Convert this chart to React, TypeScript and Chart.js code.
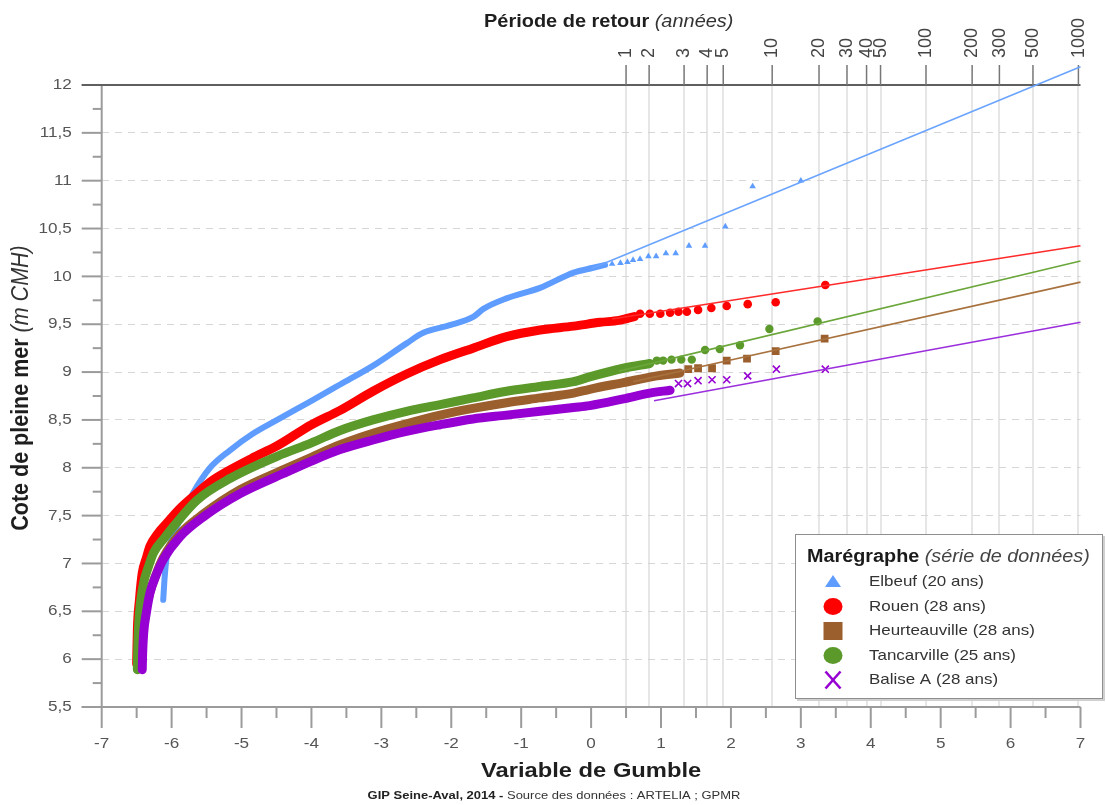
import React, { useEffect, useRef } from 'react';
import { Chart, registerables } from 'chart.js';

Chart.register(...registerables);

const FONT = '"Liberation Sans", Arial, Helvetica, sans-serif';

// Axes: Gumbel reduced variable (x) and high-water level in m CMH (y)
const xTicks = [-7, -6, -5, -4, -3, -2, -1, 0, 1, 2, 3, 4, 5, 6, 7];
const xTickLabels = ['-7', '-6', '-5', '-4', '-3', '-2', '-1', '0', '1', '2', '3', '4', '5', '6', '7'];
const yTicks = [5.5, 6, 6.5, 7, 7.5, 8, 8.5, 9, 9.5, 10, 10.5, 11, 11.5, 12];
const yTickLabels = ['5,5', '6', '6,5', '7', '7,5', '8', '8,5', '9', '9,5', '10', '10,5', '11', '11,5', '12'];

// Return period (years) and where it falls on the Gumbel axis
const returnPeriodLabels = ['1', '2', '3', '4', '5', '10', '20', '30', '40', '50', '100', '200', '300', '500', '1000'];
const returnPeriodPositions = [0.5, 0.83, 1.33, 1.66, 1.89, 2.59, 3.26, 3.66, 3.94, 4.14, 4.79, 5.45, 5.84, 6.32, 6.97];

// Elbeuf (20 ans)
const elbeufBandX = [-6.12, -6.1, -6.07, -6.0, -5.85, -5.69, -5.45, -5.17, -4.85, -4.49, -4.0, -3.59, -3.11, -2.64, -2.4, -2.02, -1.68, -1.54, -1.21, -0.73, -0.25, 0.03, 0.2];
const elbeufBandY = [6.62, 6.85, 7.07, 7.25, 7.5, 7.74, 8.0, 8.18, 8.35, 8.5, 8.7, 8.87, 9.07, 9.3, 9.41, 9.49, 9.58, 9.66, 9.77, 9.88, 10.04, 10.09, 10.12];
const elbeufTailX = [0.3, 0.42, 0.52, 0.6, 0.7, 0.82, 0.93, 1.07, 1.21, 1.4, 1.63, 1.92, 2.31, 3.0];
const elbeufTailY = [10.13, 10.14, 10.15, 10.17, 10.18, 10.21, 10.21, 10.24, 10.24, 10.32, 10.32, 10.52, 10.94, 11.0];
const elbeufFitX = [0, 7];
const elbeufFitY = [10.08, 12.19];

// Rouen (28 ans)
const rouenBandX = [-6.5, -6.49, -6.46, -6.42, -6.36, -6.31, -6.2, -6.07, -5.9, -5.69, -5.45, -5.16, -4.85, -4.49, -4.0, -3.59, -3.12, -2.64, -2.16, -1.69, -1.21, -0.73, -0.25, 0.13, 0.4, 0.62];
const rouenBandY = [5.95, 6.3, 6.62, 6.9, 7.06, 7.18, 7.31, 7.42, 7.56, 7.7, 7.85, 7.98, 8.1, 8.23, 8.45, 8.6, 8.8, 8.98, 9.13, 9.25, 9.37, 9.44, 9.48, 9.52, 9.54, 9.58];
const rouenTailX = [0.7, 0.84, 0.99, 1.13, 1.25, 1.37, 1.53, 1.72, 1.94, 2.24, 2.64, 3.35];
const rouenTailY = [9.61, 9.61, 9.61, 9.62, 9.63, 9.63, 9.65, 9.67, 9.69, 9.71, 9.73, 9.91];
const rouenFitX = [0.3, 7];
const rouenFitY = [9.554, 10.32];

// Heurteauville (28 ans)
const heurteauvilleBandX = [-6.44, -6.43, -6.41, -6.37, -6.31, -6.22, -6.12, -5.88, -5.54, -5.02, -4.4, -4.0, -3.59, -3.12, -2.64, -2.16, -1.69, -1.21, -0.73, -0.25, -0.02, 0.46, 0.94, 1.27];
const heurteauvilleBandY = [5.9, 6.06, 6.29, 6.5, 6.7, 6.89, 7.06, 7.31, 7.52, 7.77, 7.98, 8.11, 8.24, 8.36, 8.46, 8.55, 8.62, 8.68, 8.73, 8.78, 8.82, 8.89, 8.96, 8.99];
const heurteauvilleTailX = [1.39, 1.53, 1.73, 1.94, 2.23, 2.64, 3.34];
const heurteauvilleTailY = [9.03, 9.04, 9.04, 9.12, 9.14, 9.22, 9.35];
const heurteauvilleFitX = [0.6, 7];
const heurteauvilleFitY = [8.898, 9.94];

// Tancarville (25 ans)
const tancarvilleBandX = [-6.49, -6.485, -6.47, -6.44, -6.4, -6.33, -6.26, -6.1, -5.97, -5.64, -5.16, -4.49, -4.0, -3.59, -3.12, -2.64, -2.16, -1.69, -1.21, -0.73, -0.25, -0.02, 0.46, 0.84];
const tancarvilleBandY = [5.89, 6.1, 6.38, 6.62, 6.8, 6.97, 7.11, 7.27, 7.39, 7.66, 7.89, 8.12, 8.26, 8.39, 8.5, 8.59, 8.66, 8.73, 8.8, 8.85, 8.9, 8.95, 9.04, 9.09];
const tancarvilleTailX = [0.94, 1.03, 1.15, 1.29, 1.44, 1.63, 1.84, 2.13, 2.55, 3.24];
const tancarvilleTailY = [9.12, 9.12, 9.13, 9.13, 9.13, 9.23, 9.24, 9.28, 9.45, 9.53];
const tancarvilleFitX = [0.4, 7];
const tancarvilleFitY = [9.01, 10.16];

// Balise A (28 ans)
const baliseBandX = [-6.42, -6.415, -6.4, -6.36, -6.31, -6.22, -6.12, -5.88, -5.54, -5.02, -4.4, -4.0, -3.59, -3.12, -2.64, -2.16, -1.69, -1.21, -0.73, -0.25, -0.02, 0.46, 0.84, 1.13];
const baliseBandY = [5.89, 6.05, 6.27, 6.49, 6.69, 6.88, 7.04, 7.28, 7.49, 7.73, 7.94, 8.07, 8.19, 8.29, 8.38, 8.45, 8.51, 8.55, 8.59, 8.63, 8.65, 8.72, 8.78, 8.81];
const baliseTailX = [1.25, 1.38, 1.53, 1.73, 1.94, 2.24, 2.65, 3.35];
const baliseTailY = [8.88, 8.88, 8.91, 8.92, 8.92, 8.96, 9.03, 9.03];
const baliseFitX = [0.9, 7];
const baliseFitY = [8.7, 9.52];

type Marker = 'triangle' | 'circle' | 'rect' | 'cross';

const SERIES: {
  name: string; color: string; lineColor: string; marker: Marker;
  radius: number; bandWidth: number;
  bandX: number[]; bandY: number[]; tailX: number[]; tailY: number[]; fitX: number[]; fitY: number[];
}[] = [
  { name: 'Elbeuf (20 ans)', color: '#5e9cff', lineColor: '#6aa4ff', marker: 'triangle', radius: 3.8, bandWidth: 6,
    bandX: elbeufBandX, bandY: elbeufBandY, tailX: elbeufTailX, tailY: elbeufTailY, fitX: elbeufFitX, fitY: elbeufFitY },
  { name: 'Rouen (28 ans)', color: '#ff0000', lineColor: '#ff2a2a', marker: 'circle', radius: 4.3, bandWidth: 9,
    bandX: rouenBandX, bandY: rouenBandY, tailX: rouenTailX, tailY: rouenTailY, fitX: rouenFitX, fitY: rouenFitY },
  { name: 'Heurteauville (28 ans)', color: '#9b5f2d', lineColor: '#a8723f', marker: 'rect', radius: 5.5, bandWidth: 9,
    bandX: heurteauvilleBandX, bandY: heurteauvilleBandY, tailX: heurteauvilleTailX, tailY: heurteauvilleTailY, fitX: heurteauvilleFitX, fitY: heurteauvilleFitY },
  { name: 'Tancarville (25 ans)', color: '#5b9a2a', lineColor: '#6aa63a', marker: 'circle', radius: 4.2, bandWidth: 9,
    bandX: tancarvilleBandX, bandY: tancarvilleBandY, tailX: tancarvilleTailX, tailY: tancarvilleTailY, fitX: tancarvilleFitX, fitY: tancarvilleFitY },
  { name: 'Balise A (28 ans)', color: '#9600d2', lineColor: '#9b2fdc', marker: 'cross', radius: 5, bandWidth: 9,
    bandX: baliseBandX, bandY: baliseBandY, tailX: baliseTailX, tailY: baliseTailY, fitX: baliseFitX, fitY: baliseFitY },
];

const pts = (xs: number[], ys: number[]) => xs.map((x, i) => ({ x, y: ys[i] }));

type Run = { text: string; font: string; color: string };

// Draws consecutive text runs (mixed bold / italic) with a horizontal stretch factor.
function drawRuns(ctx: CanvasRenderingContext2D, runs: Run[], x: number, y: number, align: 'left' | 'center' | 'right', sx: number, sy = 1) {
  const widths = runs.map((r) => { ctx.font = r.font; return ctx.measureText(r.text).width * sx; });
  const total = widths.reduce((a, b) => a + b, 0);
  let cx = align === 'center' ? x - total / 2 : align === 'right' ? x - total : x;
  runs.forEach((r, i) => {
    ctx.save();
    ctx.font = r.font;
    ctx.fillStyle = r.color;
    ctx.textAlign = 'left';
    ctx.textBaseline = 'middle';
    ctx.translate(cx, y);
    ctx.scale(sx, sy);
    ctx.fillText(r.text, 0, 0);
    ctx.restore();
    cx += widths[i];
  });
}

function strokeLine(ctx: CanvasRenderingContext2D, x1: number, y1: number, x2: number, y2: number) {
  ctx.beginPath();
  ctx.moveTo(x1, y1);
  ctx.lineTo(x2, y2);
  ctx.stroke();
}

function legendMarker(ctx: CanvasRenderingContext2D, m: Marker, color: string, cx: number, cy: number) {
  ctx.save();
  ctx.fillStyle = color;
  ctx.strokeStyle = color;
  if (m === 'triangle') {
    ctx.beginPath();
    ctx.moveTo(cx, cy - 7);
    ctx.lineTo(cx + 8, cy + 5);
    ctx.lineTo(cx - 8, cy + 5);
    ctx.closePath();
    ctx.fill();
  } else if (m === 'circle') {
    ctx.beginPath();
    ctx.ellipse(cx, cy, 9.5, 8.4, 0, 0, Math.PI * 2);
    ctx.fill();
  } else if (m === 'rect') {
    ctx.fillRect(cx - 9.5, cy - 9, 19, 18);
  } else {
    ctx.lineWidth = 2.6;
    strokeLine(ctx, cx - 7.5, cy - 8.5, cx + 7.5, cy + 8.5);
    strokeLine(ctx, cx - 7.5, cy + 8.5, cx + 7.5, cy - 8.5);
  }
  ctx.restore();
}

const TICK_FONT = `15px ${FONT}`;
const TOP_TICK_FONT = `18px ${FONT}`;
const STRETCH = 1.14;

const gumbelDecor = {
  id: 'gumbelDecor',
  beforeDatasetsDraw(chart: any) {
    const { ctx, chartArea: a, scales } = chart;
    const xs = scales.x;
    const ys = scales.y;
    ctx.save();
    // left axis, bottom axis and their ticks
    ctx.strokeStyle = '#9b9b9b';
    ctx.lineWidth = 2;
    strokeLine(ctx, a.left, a.top, a.left, a.bottom);
    strokeLine(ctx, a.left - 20, a.bottom, a.right, a.bottom);
    yTicks.forEach((v) => {
      const py = ys.getPixelForValue(v);
      strokeLine(ctx, a.left - 20, py, a.left, py);
      if (v < 12) {
        const pm = ys.getPixelForValue(v + 0.25);
        strokeLine(ctx, a.left - 9, pm, a.left, pm);
      }
    });
    xTicks.forEach((v) => {
      const px = xs.getPixelForValue(v);
      strokeLine(ctx, px, a.bottom, px, a.bottom + 21);
      if (v < 7) {
        const pm = xs.getPixelForValue(v + 0.5);
        strokeLine(ctx, pm, a.bottom, pm, a.bottom + 11);
      }
    });
    // top axis (return period)
    ctx.strokeStyle = '#5f5f5f';
    ctx.lineWidth = 2;
    strokeLine(ctx, a.left - 20, a.top, a.right, a.top);
    ctx.strokeStyle = '#777';
    ctx.lineWidth = 1.5;
    returnPeriodPositions.forEach((v) => {
      const px = scales.x2.getPixelForValue(v);
      strokeLine(ctx, px, a.top - 20, px, a.top);
    });
    ctx.restore();
  },
  afterDraw(chart: any) {
    const { ctx, chartArea: a, scales } = chart;
    const xs = scales.x;
    const ys = scales.y;
    ctx.save();
    // tick labels
    yTicks.forEach((v, i) => {
      drawRuns(ctx, [{ text: yTickLabels[i], font: TICK_FONT, color: '#555' }], a.left - 30, ys.getPixelForValue(v), 'right', STRETCH);
    });
    xTicks.forEach((v, i) => {
      drawRuns(ctx, [{ text: xTickLabels[i], font: TICK_FONT, color: '#555' }], xs.getPixelForValue(v), a.bottom + 37, 'center', STRETCH);
    });
    returnPeriodPositions.forEach((v, i) => {
      ctx.save();
      ctx.translate(scales.x2.getPixelForValue(v), a.top - 27);
      ctx.rotate(-Math.PI / 2);
      drawRuns(ctx, [{ text: returnPeriodLabels[i], font: TOP_TICK_FONT, color: '#444' }], 0, 0, 'left', 1, 1.05);
      ctx.restore();
    });

    // axis titles
    drawRuns(ctx, [
      { text: 'Période de retour ', font: `bold 17.5px ${FONT}`, color: '#1e1e1e' },
      { text: '(années)', font: `italic 17.5px ${FONT}`, color: '#333' },
    ], 484, 22, 'left', STRETCH);
    drawRuns(ctx, [{ text: 'Variable de Gumble', font: `bold 21px ${FONT}`, color: '#1e1e1e' }], (a.left + a.right) / 2, 771, 'center', 1.13);
    ctx.save();
    ctx.translate(22, 388);
    ctx.rotate(-Math.PI / 2);
    drawRuns(ctx, [
      { text: 'Cote de pleine mer ', font: `bold 21.5px ${FONT}`, color: '#1e1e1e' },
      { text: '(m CMH)', font: `italic 21.5px ${FONT}`, color: '#333' },
    ], 0, 0, 'center', 1, 1.08);
    ctx.restore();
    drawRuns(ctx, [
      { text: 'GIP Seine-Aval, 2014 - ', font: `bold 11.8px ${FONT}`, color: '#222' },
      { text: 'Source des données : ARTELIA ; GPMR', font: `11.8px ${FONT}`, color: '#333' },
    ], 554, 796, 'center', 1.1);

    // legend
    const bx = 795, by = 534, bw = 308, bh = 165;
    ctx.fillStyle = '#d0d0d0';
    ctx.fillRect(bx + 2, by + 2, bw, bh);
    ctx.fillStyle = '#fff';
    ctx.fillRect(bx, by, bw, bh);
    ctx.strokeStyle = '#8e8e8e';
    ctx.lineWidth = 1;
    ctx.strokeRect(bx + 0.5, by + 0.5, bw - 1, bh - 1);
    drawRuns(ctx, [
      { text: 'Marégraphe ', font: `bold 18px ${FONT}`, color: '#1a1a1a' },
      { text: '(série de données)', font: `italic 18px ${FONT}`, color: '#444' },
    ], 807, 557, 'left', 1.1);
    SERIES.forEach((s, i) => {
      const cy = 582 + i * 24.5;
      legendMarker(ctx, s.marker, s.color, 833, cy);
      drawRuns(ctx, [{ text: s.name, font: `15px ${FONT}`, color: '#333' }], 869, cy, 'left', 1.13);
    });
    ctx.restore();
  },
};

export default function App() {
  const canvasRef = useRef<HTMLCanvasElement | null>(null);

  useEffect(() => {
    const canvas = canvasRef.current;
    if (!canvas) return;

    const datasets: any[] = [];
    SERIES.forEach((s, i) => {
      const layer = 10 - i * 2;
      datasets.push({
        label: s.name,
        data: pts(s.bandX, s.bandY),
        showLine: true,
        borderColor: s.color,
        borderWidth: s.bandWidth,
        borderCapStyle: 'round',
        borderJoinStyle: 'round',
        cubicInterpolationMode: 'monotone',
        pointRadius: 0,
        order: layer,
      });
      datasets.push({
        label: s.name,
        data: pts(s.tailX, s.tailY),
        showLine: false,
        pointStyle: s.marker === 'cross' ? 'crossRot' : s.marker,
        pointRadius: s.radius,
        backgroundColor: s.color,
        borderColor: s.color,
        borderWidth: s.marker === 'cross' ? 1.6 : 0,
        order: layer - 1,
      });
    });
    SERIES.forEach((s) => {
      datasets.push({
        label: s.name,
        data: pts(s.fitX, s.fitY),
        showLine: true,
        borderColor: s.lineColor,
        borderWidth: 1.6,
        pointRadius: 0,
        clip: false,
        order: 0,
      });
    });

    const chart = new Chart(canvas, {
      type: 'scatter',
      data: { datasets },
      options: {
        responsive: false,
        animation: false,
        devicePixelRatio: 1,
        events: [],
        layout: { padding: { left: 0, right: 25.5, top: 0, bottom: 0 } },
        plugins: { legend: { display: false }, tooltip: { enabled: false } },
        scales: {
          x: {
            type: 'linear',
            position: 'bottom',
            min: -7,
            max: 7,
            ticks: { display: false, stepSize: 1 },
            grid: { display: false },
            border: { display: false },
            afterFit: (s: any) => { s.height = 98; },
          },
          x2: {
            type: 'linear',
            position: 'top',
            min: -7,
            max: 7,
            afterBuildTicks: (s: any) => { s.ticks = returnPeriodPositions.map((v) => ({ value: v })); },
            ticks: { display: false },
            grid: { color: '#e6e6e6', lineWidth: 2, drawTicks: false },
            border: { display: false },
            afterFit: (s: any) => { s.height = 85; },
          },
          y: {
            type: 'linear',
            min: 5.5,
            max: 12,
            ticks: { display: false, stepSize: 0.5 },
            grid: {
              drawTicks: false,
              lineWidth: 1,
              color: (c: any) => (c.tick && (c.tick.value === 5.5 || c.tick.value === 12) ? 'rgba(0,0,0,0)' : '#d6d6d6'),
            },
            border: { display: false, dash: [7, 6] },
            afterFit: (s: any) => { s.width = 101.7; },
          },
        },
      },
      plugins: [gumbelDecor],
    });

    return () => chart.destroy();
  }, []);

  return (
    <div style={{ position: 'fixed', left: 0, top: 0, width: 1106, height: 805, background: '#fff' }}>
      <canvas ref={canvasRef} width={1106} height={805} style={{ display: 'block' }} />
    </div>
  );
}
